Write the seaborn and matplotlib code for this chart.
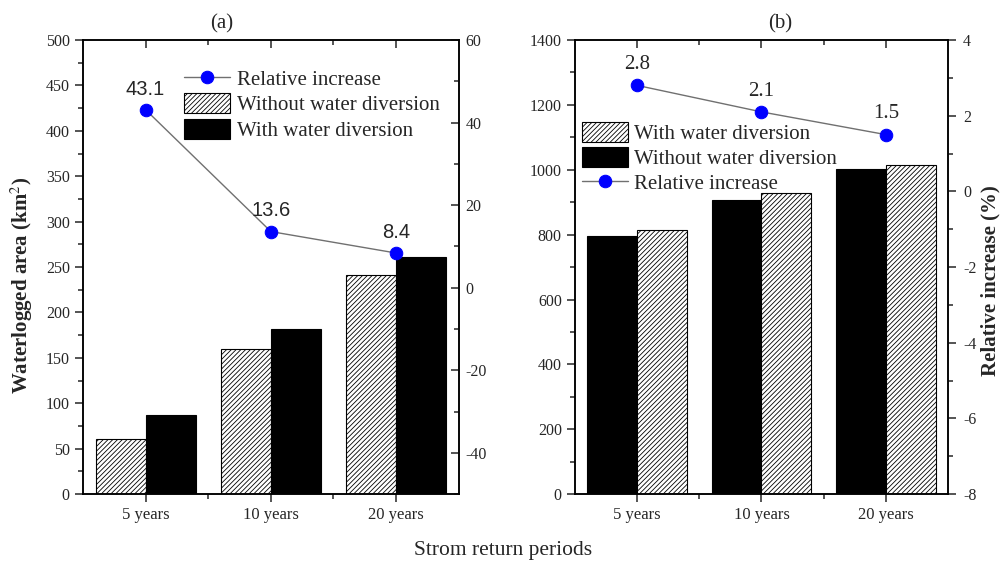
import numpy as np
import pandas as pd
import matplotlib
matplotlib.use("Agg")
import matplotlib.pyplot as plt
import seaborn as sns
from matplotlib.ticker import MultipleLocator, FixedLocator

periods = ["5 years", "10 years", "20 years"]

# panel (a)
a_without = [61, 160, 241]
a_with = [87, 182, 261]
a_rel = [43.1, 13.6, 8.4]

# panel (b)
b_without = [795, 908, 1003]
b_with = [815, 927, 1016]
b_rel = [2.8, 2.1, 1.5]

sns.set_style("white")
plt.rcParams["font.family"] = ["Liberation Serif", "DejaVu Serif"]
plt.rcParams["mathtext.fontset"] = "stix"
plt.rcParams["hatch.linewidth"] = 0.6
plt.rcParams["axes.linewidth"] = 1.1
plt.rcParams["axes.unicode_minus"] = False

W_LAB = "With water diversion"
WO_LAB = "Without water diversion"


def long_df(without, with_):
    return pd.DataFrame({
        "period": periods * 2,
        "area": list(without) + list(with_),
        "case": [WO_LAB] * 3 + [W_LAB] * 3,
    })


def style_axes(ax, ax2, ymaj, ymin, rmaj, rmin, rdir):
    ax.set_xlim(-0.5, 2.5)
    ax.xaxis.set_major_locator(FixedLocator([0, 1, 2]))
    ax.xaxis.set_minor_locator(FixedLocator([0.5, 1.5]))
    ax.yaxis.set_major_locator(MultipleLocator(ymaj))
    ax.yaxis.set_minor_locator(MultipleLocator(ymin))
    ax2.yaxis.set_major_locator(MultipleLocator(rmaj))
    ax2.yaxis.set_minor_locator(MultipleLocator(rmin))
    ax.tick_params(axis="y", which="major", labelsize=11.5)
    ax.tick_params(axis="x", which="major", labelsize=12)
    ax.tick_params(axis="both", which="major", direction="out", length=6, width=1.1,
                   left=True, bottom=True, top=False, right=False)
    ax.tick_params(axis="both", which="minor", direction="out", length=3.5, width=1.1,
                   left=True, bottom=True, top=False, right=False)
    ax2.xaxis.set_visible(True)
    ax2.tick_params(axis="x", which="both", top=True, bottom=False, labeltop=False,
                    labelbottom=False, direction="in", width=1.1)
    ax2.tick_params(axis="x", which="major", length=6)
    ax2.tick_params(axis="x", which="minor", length=3.5)
    ax2.tick_params(axis="y", which="major", direction=rdir, length=6, width=1.1,
                    labelsize=11.5, right=True, pad=5)
    ax2.tick_params(axis="y", which="minor", direction=rdir, length=3.5, width=1.1,
                    right=True)
    for sp in list(ax.spines.values()) + list(ax2.spines.values()):
        sp.set_visible(True)
        sp.set_color("black")
    ax.set_xlabel("")
    ax.set_ylabel("")


def draw_bars(ax, df, order, colors):
    sns.barplot(data=df, x="period", y="area", hue="case", hue_order=order,
                order=periods, palette=colors, edgecolor="black", linewidth=0.8,
                saturation=1, width=0.8, legend=False, ax=ax)
    handles = []
    for cont, col in zip(ax.containers, colors):
        for bar in cont:
            if col == "white":
                bar.set_hatch("///////")
        handles.append(cont.patches[0])
    return handles


fig = plt.figure(figsize=(10.06, 5.68), dpi=100)
axa = fig.add_axes([0.0825, 0.130, 0.3735, 0.7996])
axb = fig.add_axes([0.5716, 0.130, 0.3707, 0.7996])
xpos = np.arange(len(periods))

# ---- panel (a)
dfa = long_df(a_without, a_with)
ha = draw_bars(axa, dfa, [WO_LAB, W_LAB], ["white", "black"])
axa.set_ylim(0, 500)
axa2 = axa.twinx()
sns.lineplot(x=xpos, y=a_rel, ax=axa2, color="#707070", lw=1, marker="o",
             markersize=9, markerfacecolor="blue", markeredgecolor="blue")
line_a = axa2.lines[0]
axa2.set_ylim(-50, 60)
for x, v in zip(xpos, a_rel):
    axa2.annotate(f"{v}", (x, v), xytext=(0, 8), textcoords="offset points",
                  ha="center", va="bottom", fontsize=14.5, family="Liberation Sans")
style_axes(axa, axa2, 50, 25, 20, 10, "in")
axa.set_xticklabels(periods)
axa.set_ylabel("Waterlogged area (km$^2$)", fontsize=15, fontweight="bold")
axa.yaxis.set_label_coords(-0.128, 0.46)
axa.set_title("(a)", fontsize=15, x=0.37, pad=8)
axa2.legend([line_a, ha[0], ha[1]], ["Relative increase", WO_LAB, W_LAB],
            loc="upper left", bbox_to_anchor=(0.27, 0.938), frameon=False,
            fontsize=15, handlelength=2.2, handleheight=1.1, labelspacing=0.15,
            borderaxespad=0, handletextpad=0.3, borderpad=0)

# ---- panel (b)
dfb = long_df(b_without, b_with)
hb = draw_bars(axb, dfb, [WO_LAB, W_LAB], ["black", "white"])
axb.set_ylim(0, 1400)
axb2 = axb.twinx()
sns.lineplot(x=xpos, y=b_rel, ax=axb2, color="#707070", lw=1, marker="o",
             markersize=9, markerfacecolor="blue", markeredgecolor="blue")
line_b = axb2.lines[0]
axb2.set_ylim(-8, 4)
for x, v in zip(xpos, b_rel):
    axb2.annotate(f"{v}", (x, v), xytext=(0, 8), textcoords="offset points",
                  ha="center", va="bottom", fontsize=15)
style_axes(axb, axb2, 200, 100, 2, 1, "out")
axb.set_xticklabels(periods)
axb2.set_ylabel("Relative increase (%)", fontsize=15, fontweight="bold")
axb2.yaxis.set_label_coords(1.088, 0.47)
axb.set_title("(b)", fontsize=15, x=0.55, pad=8)
axb2.legend([hb[1], hb[0], line_b], [W_LAB, WO_LAB, "Relative increase"],
            loc="upper left", bbox_to_anchor=(0.019, 0.82), frameon=False,
            fontsize=15, handlelength=2.2, handleheight=1.1, labelspacing=0.15,
            borderaxespad=0, handletextpad=0.3, borderpad=0)

fig.text(0.5, 0.03, "Strom return periods", ha="center", va="center", fontsize=15.5)

fig.savefig("out.png", dpi=100)
